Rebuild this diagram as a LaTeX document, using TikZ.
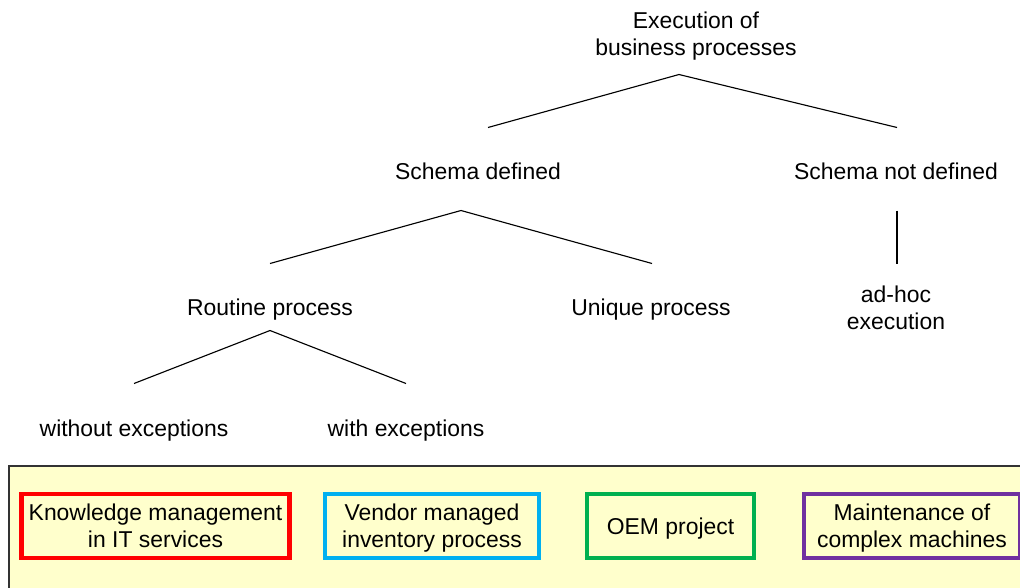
\documentclass[tikz,border=0pt]{standalone}
\usepackage{fontspec}
\setmainfont{Liberation Sans}
\usetikzlibrary{calc}
\definecolor{boxyellow}{HTML}{FFFFCC}
\definecolor{kmred}{HTML}{FF0000}
\definecolor{vmiblue}{HTML}{00B0F0}
\definecolor{oemgreen}{HTML}{00B050}
\definecolor{mcmpurple}{HTML}{7030A0}

\begin{document}
\begin{tikzpicture}[
  x=0.025cm, y=-0.025cm,
  lbl/.style={font=\fontsize{16.3}{19.2}\selectfont, align=center, inner sep=0pt, text height=11.7pt, text depth=0pt},
  twoline/.style={text height=30.9pt},
  branch/.style={line width=0.8pt},
  casebox/.style={lbl, draw, line width=2.9pt, minimum height=1.62cm},
]
\useasboundingbox (0,0) rectangle (1020,587);
\clip (0,0) rectangle (1020,587);

\node[lbl, twoline] (root) at (696,33.5) {Execution of\\business processes};
\node[lbl] (sd) at (478,171) {Schema defined};
\node[lbl] (snd) at (896,171) {Schema not defined};
\node[lbl] (routine) at (270,307) {Routine process};
\node[lbl] (unique) at (651,307) {Unique process};
\node[lbl, twoline] (adhoc) at (896,308) {ad-hoc\\execution};
\node[lbl] (without) at (134,428) {without exceptions};
\node[lbl] (with) at (406,428) {with exceptions};

\draw[branch] ($(sd.north)+(10,-35)$) -- ($(root.south)+(-17,19)$) -- ($(snd.north)+(1,-35)$);
\draw[branch] ($(routine.north)+(0,-35)$) -- ($(sd.south)+(-17,31)$) -- ($(unique.north)+(1,-35)$);
\draw[branch] ($(snd.south)+(1,31)$) -- ($(adhoc.north)+(1,-22)$);
\draw[branch] ($(without.north)+(0,-36)$) -- ($(routine.south)+(0,15)$) -- ($(with.north)+(0,-36)$);

\draw[fill=boxyellow, draw=black!80, line width=0.8pt] (9,466) rectangle (1040,600);
\node[casebox, twoline, draw=kmred, minimum width=6.7cm] (km) at (155.5,526) {Knowledge management\\in IT services};
\node[casebox, twoline, draw=vmiblue, minimum width=5.35cm] (vmi) at (432,526) {Vendor managed\\inventory process};
\node[casebox, draw=oemgreen, minimum width=4.18cm] (oem) at (670.5,526) {OEM project};
\node[casebox, twoline, draw=mcmpurple, minimum width=5.4cm] (mcm) at (912,526) {Maintenance of\\complex machines};
\end{tikzpicture}
\end{document}
